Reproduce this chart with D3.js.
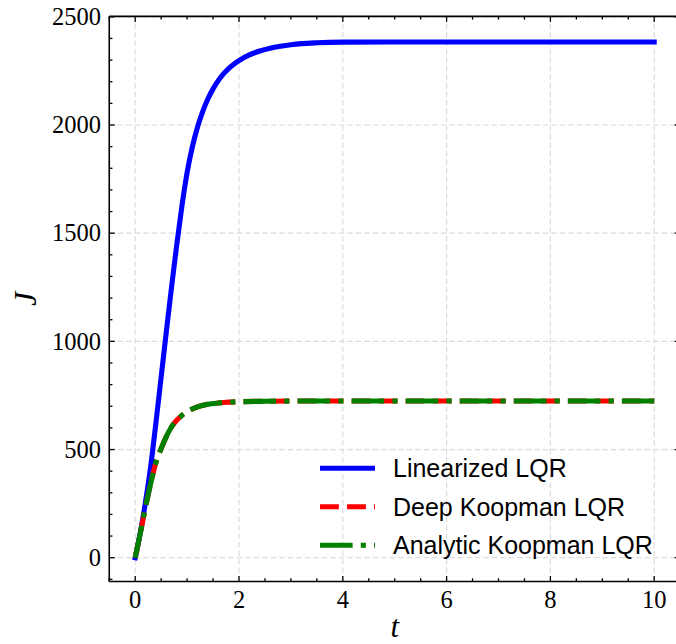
<!DOCTYPE html>
<html>
<head>
<meta charset="utf-8">
<script src="https://cdn.jsdelivr.net/npm/d3@7"></script>
<style>
  html, body { margin: 0; padding: 0; background: #fff; }
  svg { display: block; }
</style>
</head>
<body>
<svg id="chart" width="676" height="644"></svg>
<script>
// Accumulated cost J(t) for the three controllers
const tLinearized = [0, 0.1, 0.2, 0.3, 0.4, 0.5, 0.6, 0.7, 0.8, 0.9, 1.0, 1.1, 1.2, 1.3, 1.4, 1.5, 1.6, 1.7, 1.8, 1.9, 2.0, 2.2, 2.4, 2.6, 2.8, 3.0, 3.2, 3.5, 4.0, 5.0, 6.0, 7.0, 8.0, 9.0, 10.0];
const jLinearized = [0, 118, 260, 425, 625, 835, 1045, 1250, 1445, 1625, 1780, 1898, 1990, 2062, 2120, 2167, 2205, 2236, 2261, 2281, 2298, 2324, 2342, 2355, 2364, 2371, 2376, 2380, 2383, 2384, 2384, 2384, 2384, 2384, 2384];

const tKoopman = [0, 0.1, 0.2, 0.3, 0.4, 0.5, 0.6, 0.7, 0.8, 0.9, 1.0, 1.2, 1.4, 1.6, 1.8, 2.0, 2.5, 3.0, 4.0, 5.0, 6.0, 7.0, 8.0, 9.0, 10.0];
const jDeepKoopman = [0, 115, 235, 345, 440, 505, 560, 605, 635, 658, 675, 697, 709, 715, 719, 721, 723, 724, 724, 724, 724, 724, 724, 724, 724];
const jAnalyticKoopman = [0, 115, 235, 345, 440, 505, 560, 605, 635, 658, 675, 697, 709, 715, 719, 721, 723, 724, 724, 724, 724, 724, 724, 724, 724];

const seriesNames = ["Linearized LQR", "Deep Koopman LQR", "Analytic Koopman LQR"];
const xMajorTicks = [0, 2, 4, 6, 8, 10];
const yMajorTicks = [0, 500, 1000, 1500, 2000, 2500];

const svg = d3.select("#chart");

const x = d3.scaleLinear().domain([-0.5, 10.5]).range([109.25, 680.15]);
const y = d3.scaleLinear().domain([-110, 2502]).range([581.5, 16.4]);

const [x0, x1] = x.range();
const [yb, yt] = y.range();

// clip region for the data lines
svg.append("defs").append("clipPath").attr("id", "plotClip")
  .append("rect").attr("x", x0).attr("y", yt).attr("width", x1 - x0).attr("height", yb - yt);

// grid
const grid = svg.append("g").attr("stroke", "#dcdcdc").attr("stroke-width", 1.2).attr("stroke-dasharray", "5.5,3");
grid.selectAll("line.gx").data(xMajorTicks).join("line")
  .attr("x1", d => x(d)).attr("x2", d => x(d)).attr("y1", yb).attr("y2", yt);
grid.selectAll("line.gy").data(yMajorTicks).join("line")
  .attr("x1", x0).attr("x2", x1).attr("y1", d => y(d)).attr("y2", d => y(d));

// data lines
const lines = svg.append("g").attr("clip-path", "url(#plotClip)").attr("fill", "none");
const lineGen = (ts) => d3.line().x((d, i) => x(ts[i])).y(d => y(d)).curve(d3.curveMonotoneX);
const LW = 5.1;

lines.append("path").datum(jLinearized).attr("d", lineGen(tLinearized))
  .attr("stroke", "#0000ff").attr("stroke-width", LW).attr("stroke-linecap", "square").attr("stroke-linejoin", "round");
lines.append("path").datum(jDeepKoopman).attr("d", lineGen(tKoopman))
  .attr("stroke", "#ff0000").attr("stroke-width", LW).attr("stroke-linecap", "butt")
  .attr("stroke-dasharray", `${3.7 * LW},${1.6 * LW}`);
lines.append("path").datum(jAnalyticKoopman).attr("d", lineGen(tKoopman))
  .attr("stroke", "#008000").attr("stroke-width", LW).attr("stroke-linecap", "butt")
  .attr("stroke-dasharray", `${6.4 * LW},${1.6 * LW},${1 * LW},${1.6 * LW}`);

// spines
const spines = svg.append("g").attr("stroke", "#000").attr("stroke-width", 1.6);
spines.append("line").attr("x1", x0).attr("x2", x1).attr("y1", yb).attr("y2", yb);
spines.append("line").attr("x1", x0).attr("x2", x1).attr("y1", yt).attr("y2", yt);
spines.append("line").attr("x1", x0).attr("x2", x0).attr("y1", yt).attr("y2", yb);
spines.append("line").attr("x1", x1).attr("x2", x1).attr("y1", yt).attr("y2", yb);

// inward ticks on all four sides
const xMinor = d3.range(-0.5, 10.51, 0.5).filter(v => !xMajorTicks.includes(v));
const yMinor = d3.range(-100, 2501, 100).filter(v => !yMajorTicks.includes(v));
const ticks = svg.append("g").attr("stroke", "#000").attr("stroke-width", 1.3);
function xTicks(vals, len) {
  ticks.selectAll(null).data(vals).join("line")
    .attr("x1", d => x(d)).attr("x2", d => x(d)).attr("y1", yb).attr("y2", yb - len);
  ticks.selectAll(null).data(vals).join("line")
    .attr("x1", d => x(d)).attr("x2", d => x(d)).attr("y1", yt).attr("y2", yt + len);
}
function yTicks(vals, len) {
  ticks.selectAll(null).data(vals).join("line")
    .attr("x1", x0).attr("x2", x0 + len).attr("y1", d => y(d)).attr("y2", d => y(d));
  ticks.selectAll(null).data(vals).join("line")
    .attr("x1", x1).attr("x2", x1 - len).attr("y1", d => y(d)).attr("y2", d => y(d));
}
xTicks(xMajorTicks, 5.5); xTicks(xMinor, 3.2);
yTicks(yMajorTicks, 5.5); yTicks(yMinor, 3.2);

// tick labels
const serif = "'Liberation Serif', 'DejaVu Serif', serif";
svg.append("g").selectAll("text").data(xMajorTicks).join("text")
  .attr("x", d => x(d)).attr("y", 608).attr("text-anchor", "middle")
  .attr("font-family", serif).attr("font-size", 24.5).attr("fill", "#000").text(d => d);
svg.append("g").selectAll("text").data(yMajorTicks).join("text")
  .attr("x", 101).attr("y", d => y(d) + 8.3).attr("text-anchor", "end")
  .attr("font-family", serif).attr("font-size", 24.5).attr("fill", "#000").text(d => d);

// axis labels
svg.append("text").attr("x", (x0 + x1) / 2).attr("y", 637).attr("text-anchor", "middle")
  .attr("font-family", serif).attr("font-style", "italic").attr("font-size", 31).text("t");
svg.append("text").attr("transform", `translate(36,${(yb + yt) / 2}) rotate(-90)`).attr("text-anchor", "middle")
  .attr("font-family", serif).attr("font-style", "italic").attr("font-size", 32).text("J");

// legend
const legend = svg.append("g");
const legendStyles = [
  { color: "#0000ff", dash: null },
  { color: "#ff0000", dash: `${3.7 * LW},${1.6 * LW}` },
  { color: "#008000", dash: `${6.4 * LW},${1.6 * LW},${1 * LW},${1.6 * LW}` }
];
const legendY = [468.3, 506.8, 545.2];
seriesNames.forEach((name, i) => {
  const ly = legendY[i];
  legend.append("line").attr("x1", 320).attr("x2", 375).attr("y1", ly).attr("y2", ly)
    .attr("stroke", legendStyles[i].color).attr("stroke-width", LW)
    .attr("stroke-dasharray", legendStyles[i].dash);
  legend.append("text").attr("x", 393).attr("y", ly + 9)
    .attr("font-family", "'Liberation Sans', Arial, sans-serif").attr("font-size", 25)
    .attr("fill", "#000").text(name);
});
</script>
</body>
</html>
